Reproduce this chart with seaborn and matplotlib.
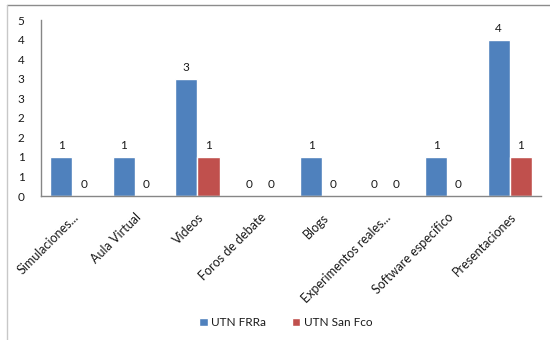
import matplotlib
matplotlib.use("Agg")
import matplotlib.pyplot as plt
from matplotlib.lines import Line2D
import seaborn as sns
import pandas as pd

# Recursos utilizados por cada sede
recursos = ["Simulaciones...", "Aula Virtual", "Videos", "Foros de debate",
            "Blogs", "Experimentos reales...", "Software específico", "Presentaciones"]
sedes = ["UTN FRRa", "UTN San Fco"]
frra = [1, 1, 3, 0, 1, 0, 1, 4]
san_fco = [0, 0, 1, 0, 0, 0, 0, 1]
colores = ["#4F81BD", "#C0504D"]
y_ticks = [0, 0.5, 1, 1.5, 2, 2.5, 3, 3.5, 4, 4.5]

df = pd.DataFrame({
    "recurso": recursos * 2,
    "cantidad": frra + san_fco,
    "sede": [sedes[0]] * len(recursos) + [sedes[1]] * len(recursos),
})

sns.set_theme(style="white")
plt.rcParams["font.family"] = ["Lato", "DejaVu Sans"]
text_color = "#1a1a1a"

fig = plt.figure(figsize=(5.5, 3.4), dpi=100)
ax = fig.add_axes([0.075, 0.4235, 0.9086, 0.5176])

sns.barplot(data=df, x="recurso", y="cantidad", hue="sede", hue_order=sedes,
            order=recursos, palette=colores, saturation=1, width=0.71,
            ax=ax, legend=True)

for cont in ax.containers:
    ax.bar_label(cont, fmt="%d", padding=4, fontsize=8.5, color=text_color)

ax.set_ylim(0, 4.5)
ax.set_yticks(y_ticks)
ax.set_yticklabels([f"{int(v + 0.5)}" for v in y_ticks], fontsize=8.5, color=text_color)
ax.set_xlim(-0.5, len(recursos) - 0.5)
ax.set_xticks(range(len(recursos)))
ax.set_xticklabels(recursos, rotation=45, ha="right", rotation_mode="anchor",
                   fontsize=9, color=text_color)
ax.tick_params(axis="both", length=0)
ax.tick_params(axis="y", pad=12)
ax.tick_params(axis="x", pad=11)
ax.set_xlabel("")
ax.set_ylabel("")

for side in ["top", "right"]:
    ax.spines[side].set_visible(False)
for side in ["left", "bottom"]:
    ax.spines[side].set_color("#868686")
    ax.spines[side].set_linewidth(1.0)

handles, labels = ax.get_legend_handles_labels()
ax.legend_.remove()
fig.legend(handles, labels, loc="center", bbox_to_anchor=(0.52, 0.052), ncol=2,
           frameon=False, fontsize=8.5, handlelength=0.7, handleheight=0.7,
           handletextpad=0.3, columnspacing=2.2, labelcolor=text_color)

# Marco exterior del gráfico
fig.add_artist(Line2D([0.0127, 1.0], [0.985, 0.985], transform=fig.transFigure,
                      color="#8c8c8c", linewidth=1.0))
fig.add_artist(Line2D([0.0127, 0.0127], [0.0, 0.985], transform=fig.transFigure,
                      color="#c8c8c8", linewidth=1.0))

fig.savefig("out.png", dpi=100)
